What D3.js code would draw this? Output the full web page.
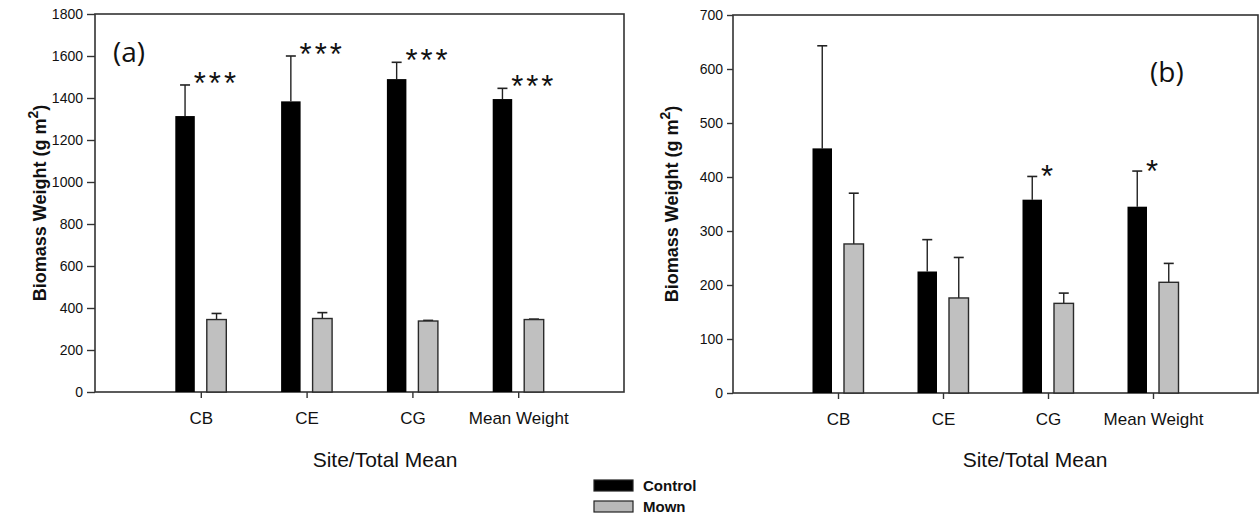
<!DOCTYPE html>
<html>
<head>
<meta charset="utf-8">
<script src="https://cdn.jsdelivr.net/npm/d3@7"></script>
<style>
  body { margin: 0; background: #fff; }
  text { font-family: "Liberation Sans", Arial, sans-serif; fill: #111; }
</style>
</head>
<body>
<svg id="chart" width="1260" height="519"></svg>
<script>
// categories
const sites = ["CB", "CE", "CG", "Mean Weight"]

// panel (a)
const controlA = [1314, 1384, 1490, 1395]
const controlErrA = [148, 216, 80, 51]
const mownA = [345, 350, 338, 345]
const mownErrA = [29, 28, 3, 2]
const starsA = ["***", "***", "***", "***"]
const ticksA = [0, 200, 400, 600, 800, 1000, 1200, 1400, 1600, 1800]

// panel (b)
const controlB = [453, 225, 358, 345]
const controlErrB = [190, 59, 43, 66]
const mownB = [276, 176, 166, 205]
const mownErrB = [94, 75, 19, 35]
const starsB = ["", "", "*", "*"]
const ticksB = [0, 100, 200, 300, 400, 500, 600, 700]

const svg = d3.select("#chart")

const drawPanel = (p) => {
  let g = svg.append("g")
  let x = d3.scalePoint().domain(sites).range([p.x0, p.x1]).padding(1)
  let y = d3.scaleLinear().domain([0, p.max]).range([p.y1, p.y0])
  let barW = 19.5, gap = 6

  // frame
  g.append("rect")
    .attr("x", p.x0).attr("y", p.y0)
    .attr("width", p.x1 - p.x0).attr("height", p.y1 - p.y0)
    .attr("fill", "none").attr("stroke", "#333").attr("stroke-width", 1.6)

  // y axis
  let ya = g.append("g")
    .attr("transform", `translate(${p.x0},0)`)
    .call(d3.axisLeft(y).tickValues(p.ticks).tickFormat(d3.format("d")).tickSize(p.tickLen).tickPadding(4))
  ya.select(".domain").remove()
  ya.selectAll(".tick line").attr("stroke", "#333").attr("stroke-width", 1.4)
  ya.selectAll(".tick text").style("font-size", "14px").attr("fill", "#222")

  // x axis
  let xa = g.append("g")
    .attr("transform", `translate(0,${p.y1})`)
    .call(d3.axisBottom(x).tickSize(6).tickPadding(14))
  xa.select(".domain").remove()
  xa.selectAll(".tick line").attr("stroke", "#333").attr("stroke-width", 1.4)
  xa.selectAll(".tick text").style("font-size", "17px").attr("fill", "#111")

  let rows = sites.map((s, i) => ({
    s: s, c: p.control[i], ce: p.controlErr[i], m: p.mown[i], me: p.mownErr[i], star: p.stars[i]
  }))

  // error bars (drawn first so bars cover the lower part)
  rows.forEach(d => {
    let cx = x(d.s) - gap - barW / 2
    let mx = x(d.s) + gap + barW / 2
    let pairs = [[cx, d.c, d.ce], [mx, d.m, d.me]]
    pairs.forEach(([bx, v, e]) => {
      g.append("line")
        .attr("x1", bx).attr("x2", bx)
        .attr("y1", y(v)).attr("y2", y(v + e))
        .attr("stroke", "#222").attr("stroke-width", 1.4)
      g.append("line")
        .attr("x1", bx - 5).attr("x2", bx + 5)
        .attr("y1", y(v + e)).attr("y2", y(v + e))
        .attr("stroke", "#222").attr("stroke-width", 1.6)
    })
  })

  // bars
  g.selectAll(".ctl").data(rows).enter().append("rect")
    .attr("x", d => x(d.s) - gap - barW)
    .attr("y", d => y(d.c))
    .attr("width", barW)
    .attr("height", d => y(0) - y(d.c))
    .attr("fill", "#000")

  g.selectAll(".mwn").data(rows).enter().append("rect")
    .attr("x", d => x(d.s) + gap)
    .attr("y", d => y(d.m))
    .attr("width", barW)
    .attr("height", d => y(0) - y(d.m))
    .attr("fill", "#c0c0c0")
    .attr("stroke", "#2a2a2a").attr("stroke-width", 1.4)

  // significance stars
  g.selectAll(".star").data(rows).enter().append("text")
    .attr("x", d => x(d.s) - 7)
    .attr("y", d => y(d.c + d.ce) + p.starDy)
    .style("font-size", "31px")
    .style("letter-spacing", "3px")
    .text(d => d.star)

  // panel label
  g.append("text")
    .attr("x", p.labelX).attr("y", p.labelY)
    .style("font-family", "'Open Sans', sans-serif")
    .style("font-size", "28px")
    .text(p.label)

  // axis titles
  g.append("text")
    .attr("transform", `translate(${p.yTitleX},${(p.y0 + p.y1) / 2}) rotate(-90)`)
    .attr("text-anchor", "middle")
    .style("font-size", "18px").style("font-weight", "bold")
    .html('Biomass Weight (g m<tspan dy="-8" font-size="14px">2</tspan><tspan dy="8">)</tspan>')

  g.append("text")
    .attr("x", p.xTitleX).attr("y", 467)
    .attr("text-anchor", "middle")
    .style("font-size", "21px")
    .text("Site/Total Mean")
}

drawPanel({
  x0: 95, x1: 624, y0: 14, y1: 392, max: 1800, ticks: ticksA, tickLen: 8,
  control: controlA, controlErr: controlErrA, mown: mownA, mownErr: mownErrA, stars: starsA,
  starDy: 9, label: "(a)", labelX: 113, labelY: 62, yTitleX: 46, xTitleX: 385
})

drawPanel({
  x0: 733, x1: 1258, y0: 15, y1: 393, max: 700, ticks: ticksB, tickLen: 6,
  control: controlB, controlErr: controlErrB, mown: mownB, mownErr: mownErrB, stars: starsB,
  starDy: 11, label: "(b)", labelX: 1150, labelY: 82, yTitleX: 678, xTitleX: 1035
})

// legend
const legendItems = ["Control", "Mown"]
const legendFill = ["#000", "#b8b8b8"]
let lg = svg.append("g")
lg.selectAll("rect").data(legendItems).enter().append("rect")
  .attr("x", 594).attr("y", (d, i) => 480 + i * 21)
  .attr("width", 39).attr("height", 11)
  .attr("fill", (d, i) => legendFill[i])
  .attr("stroke", "#222").attr("stroke-width", 1.2)
lg.selectAll("text").data(legendItems).enter().append("text")
  .attr("x", 643).attr("y", (d, i) => 491 + i * 21)
  .style("font-size", "15px").style("font-weight", "bold")
  .text(d => d)
</script>
</body>
</html>
